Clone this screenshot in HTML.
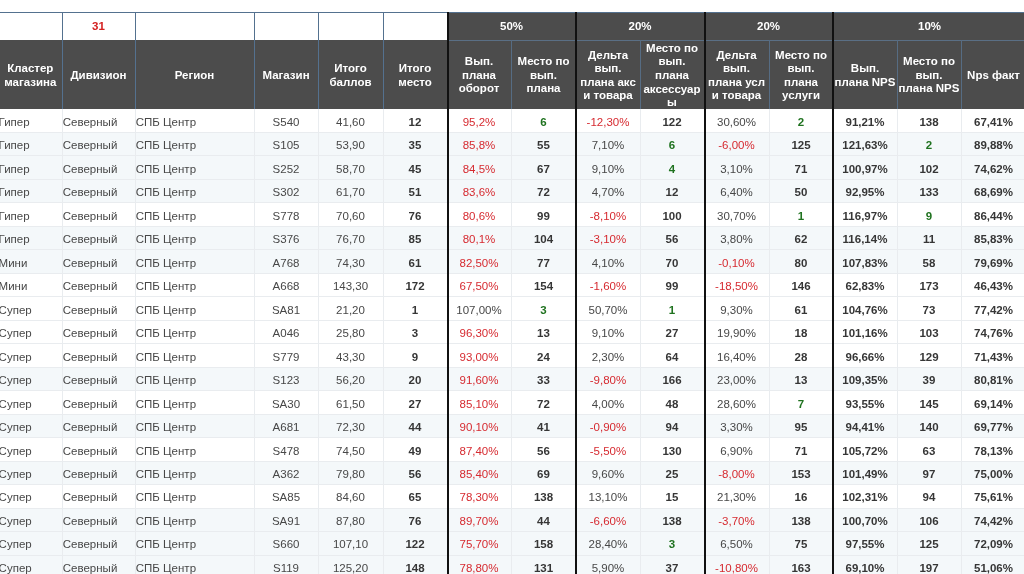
<!DOCTYPE html><html><head><meta charset="utf-8"><style>
html,body{margin:0;padding:0;background:#fff;}
body{width:1024px;height:574px;overflow:hidden;position:relative;font-family:"Liberation Sans", Arial, Helvetica, sans-serif;}
.c{position:absolute;box-sizing:border-box;display:flex;align-items:center;justify-content:center;text-align:center;white-space:nowrap;overflow:visible;}
.h{color:#fff;font-weight:bold;font-size:11.5px;line-height:13.6px;padding-top:2.4px;}
.d{font-size:11.5px;color:#474747;padding-top:2.1px;}
.l{justify-content:flex-start;padding-left:0.8px;}
.l0{padding-left:0;}
.b{font-weight:bold;color:#363636;}
.r{color:#d62a30;}
.g{color:#1f721f;font-weight:bold;}
.ln{position:absolute;}
#w{position:absolute;left:0;top:0;width:1024px;height:574px;will-change:transform;}
</style></head><body><div id="w">
<div class="ln" style="left:447px;top:12px;width:579px;height:97px;background:#4c4c4c;"></div>
<div class="ln" style="left:-1.5px;top:40px;width:448.5px;height:69px;background:#4c4c4c;"></div>
<div class="ln" style="left:-1.5px;top:132.48px;width:1027.5px;height:23.48px;background:#f4f8fa;"></div>
<div class="ln" style="left:-1.5px;top:155.96px;width:1027.5px;height:23.48px;background:#f4f8fa;"></div>
<div class="ln" style="left:-1.5px;top:179.44px;width:1027.5px;height:23.48px;background:#f4f8fa;"></div>
<div class="ln" style="left:-1.5px;top:226.4px;width:1027.5px;height:23.48px;background:#f4f8fa;"></div>
<div class="ln" style="left:-1.5px;top:249.88px;width:1027.5px;height:23.48px;background:#f4f8fa;"></div>
<div class="ln" style="left:-1.5px;top:367.28px;width:1027.5px;height:23.48px;background:#f4f8fa;"></div>
<div class="ln" style="left:-1.5px;top:414.24px;width:1027.5px;height:23.48px;background:#f4f8fa;"></div>
<div class="ln" style="left:-1.5px;top:461.2px;width:1027.5px;height:23.48px;background:#f4f8fa;"></div>
<div class="ln" style="left:-1.5px;top:508.16px;width:1027.5px;height:23.48px;background:#f4f8fa;"></div>
<div class="ln" style="left:-1.5px;top:531.64px;width:1027.5px;height:23.48px;background:#f4f8fa;"></div>
<div class="ln" style="left:-1.5px;top:555.12px;width:1027.5px;height:23.48px;background:#f4f8fa;"></div>
<div class="ln" style="left:-1.5px;top:131.98px;width:1027.5px;height:1px;background:#e9ecef;"></div>
<div class="ln" style="left:-1.5px;top:155.46px;width:1027.5px;height:1px;background:#e9ecef;"></div>
<div class="ln" style="left:-1.5px;top:178.94px;width:1027.5px;height:1px;background:#e9ecef;"></div>
<div class="ln" style="left:-1.5px;top:202.42px;width:1027.5px;height:1px;background:#e9ecef;"></div>
<div class="ln" style="left:-1.5px;top:225.9px;width:1027.5px;height:1px;background:#e9ecef;"></div>
<div class="ln" style="left:-1.5px;top:249.38px;width:1027.5px;height:1px;background:#e9ecef;"></div>
<div class="ln" style="left:-1.5px;top:272.86px;width:1027.5px;height:1px;background:#e9ecef;"></div>
<div class="ln" style="left:-1.5px;top:296.34px;width:1027.5px;height:1px;background:#e9ecef;"></div>
<div class="ln" style="left:-1.5px;top:319.82px;width:1027.5px;height:1px;background:#e9ecef;"></div>
<div class="ln" style="left:-1.5px;top:343.3px;width:1027.5px;height:1px;background:#e9ecef;"></div>
<div class="ln" style="left:-1.5px;top:366.78px;width:1027.5px;height:1px;background:#e9ecef;"></div>
<div class="ln" style="left:-1.5px;top:390.26px;width:1027.5px;height:1px;background:#e9ecef;"></div>
<div class="ln" style="left:-1.5px;top:413.74px;width:1027.5px;height:1px;background:#e9ecef;"></div>
<div class="ln" style="left:-1.5px;top:437.22px;width:1027.5px;height:1px;background:#e9ecef;"></div>
<div class="ln" style="left:-1.5px;top:460.7px;width:1027.5px;height:1px;background:#e9ecef;"></div>
<div class="ln" style="left:-1.5px;top:484.18px;width:1027.5px;height:1px;background:#e9ecef;"></div>
<div class="ln" style="left:-1.5px;top:507.66px;width:1027.5px;height:1px;background:#e9ecef;"></div>
<div class="ln" style="left:-1.5px;top:531.14px;width:1027.5px;height:1px;background:#e9ecef;"></div>
<div class="ln" style="left:-1.5px;top:554.62px;width:1027.5px;height:1px;background:#e9ecef;"></div>
<div class="ln" style="left:-1.5px;top:578.1px;width:1027.5px;height:1px;background:#e9ecef;"></div>
<div class="ln" style="left:62px;top:109px;width:1px;height:465px;background:#e9ecef;"></div>
<div class="ln" style="left:135px;top:109px;width:1px;height:465px;background:#e9ecef;"></div>
<div class="ln" style="left:254px;top:109px;width:1px;height:465px;background:#e9ecef;"></div>
<div class="ln" style="left:318px;top:109px;width:1px;height:465px;background:#e9ecef;"></div>
<div class="ln" style="left:383px;top:109px;width:1px;height:465px;background:#e9ecef;"></div>
<div class="ln" style="left:511px;top:109px;width:1px;height:465px;background:#e9ecef;"></div>
<div class="ln" style="left:640px;top:109px;width:1px;height:465px;background:#e9ecef;"></div>
<div class="ln" style="left:769px;top:109px;width:1px;height:465px;background:#e9ecef;"></div>
<div class="ln" style="left:897px;top:109px;width:1px;height:465px;background:#e9ecef;"></div>
<div class="ln" style="left:961px;top:109px;width:1px;height:465px;background:#e9ecef;"></div>
<div class="ln" style="left:-1.5px;top:12px;width:1027.5px;height:1px;background:#54718f;"></div>
<div class="ln" style="left:62px;top:12px;width:1px;height:97px;background:#54718f;"></div>
<div class="ln" style="left:135px;top:12px;width:1px;height:97px;background:#54718f;"></div>
<div class="ln" style="left:254px;top:12px;width:1px;height:97px;background:#54718f;"></div>
<div class="ln" style="left:318px;top:12px;width:1px;height:97px;background:#54718f;"></div>
<div class="ln" style="left:383px;top:12px;width:1px;height:97px;background:#54718f;"></div>
<div class="ln" style="left:447px;top:40px;width:579px;height:1px;background:#5a6f85;"></div>
<div class="ln" style="left:510.5px;top:40px;width:1.5px;height:69px;background:#566c83;"></div>
<div class="ln" style="left:639.5px;top:40px;width:1.5px;height:69px;background:#566c83;"></div>
<div class="ln" style="left:768.5px;top:40px;width:1.5px;height:69px;background:#566c83;"></div>
<div class="ln" style="left:896.5px;top:40px;width:1.5px;height:69px;background:#566c83;"></div>
<div class="ln" style="left:960.5px;top:40px;width:1.5px;height:69px;background:#566c83;"></div>
<div class="ln" style="left:446.5px;top:12px;width:2px;height:562px;background:#111;"></div>
<div class="ln" style="left:575px;top:12px;width:2px;height:562px;background:#111;"></div>
<div class="ln" style="left:704px;top:12px;width:2px;height:562px;background:#111;"></div>
<div class="ln" style="left:832px;top:12px;width:2px;height:562px;background:#111;"></div>
<div class="c h" style="left:62px;top:12px;width:73px;height:28px;color:#d42020;">31</div>
<div class="c h" style="left:447px;top:12px;width:129px;height:28px;">50%</div>
<div class="c h" style="left:576px;top:12px;width:128px;height:28px;">20%</div>
<div class="c h" style="left:704px;top:12px;width:129px;height:28px;">20%</div>
<div class="c h" style="left:833px;top:12px;width:193px;height:28px;">10%</div>
<div class="c h" style="left:-1.5px;top:40px;width:63.5px;height:69px;">Кластер<br>магазина</div>
<div class="c h" style="left:62px;top:40px;width:73px;height:69px;">Дивизион</div>
<div class="c h" style="left:135px;top:40px;width:119px;height:69px;">Регион</div>
<div class="c h" style="left:254px;top:40px;width:64px;height:69px;">Магазин</div>
<div class="c h" style="left:318px;top:40px;width:65px;height:69px;">Итого<br>баллов</div>
<div class="c h" style="left:383px;top:40px;width:64px;height:69px;">Итого<br>место</div>
<div class="c h" style="left:447px;top:40px;width:64px;height:69px;">Вып.<br>плана<br>оборот</div>
<div class="c h" style="left:511px;top:40px;width:65px;height:69px;">Место по<br>вып.<br>плана</div>
<div class="c h" style="left:576px;top:40px;width:64px;height:69px;">Дельта<br>вып.<br>плана акс<br>и товара</div>
<div class="c h" style="left:640px;top:40px;width:64px;height:69px;">Место по<br>вып.<br>плана<br>аксессуар<br>ы</div>
<div class="c h" style="left:704px;top:40px;width:65px;height:69px;">Дельта<br>вып.<br>плана усл<br>и товара</div>
<div class="c h" style="left:769px;top:40px;width:64px;height:69px;">Место по<br>вып.<br>плана<br>услуги</div>
<div class="c h" style="left:833px;top:40px;width:64px;height:69px;">Вып.<br>плана NPS</div>
<div class="c h" style="left:897px;top:40px;width:64px;height:69px;">Место по<br>вып.<br>плана NPS</div>
<div class="c h" style="left:961px;top:40px;width:65px;height:69px;">Nps факт</div>
<div class="c d l l0" style="left:-1.4px;top:109px;width:63.4px;height:23.48px;">Гипер</div>
<div class="c d l" style="left:62px;top:109px;width:73px;height:23.48px;">Северный</div>
<div class="c d l" style="left:135px;top:109px;width:119px;height:23.48px;">СПБ Центр</div>
<div class="c d" style="left:254px;top:109px;width:64px;height:23.48px;">S540</div>
<div class="c d" style="left:318px;top:109px;width:65px;height:23.48px;">41,60</div>
<div class="c d b" style="left:383px;top:109px;width:64px;height:23.48px;">12</div>
<div class="c d r" style="left:447px;top:109px;width:64px;height:23.48px;">95,2%</div>
<div class="c d g" style="left:511px;top:109px;width:65px;height:23.48px;">6</div>
<div class="c d r" style="left:576px;top:109px;width:64px;height:23.48px;">-12,30%</div>
<div class="c d b" style="left:640px;top:109px;width:64px;height:23.48px;">122</div>
<div class="c d" style="left:704px;top:109px;width:65px;height:23.48px;">30,60%</div>
<div class="c d g" style="left:769px;top:109px;width:64px;height:23.48px;">2</div>
<div class="c d b" style="left:833px;top:109px;width:64px;height:23.48px;">91,21%</div>
<div class="c d b" style="left:897px;top:109px;width:64px;height:23.48px;">138</div>
<div class="c d b" style="left:961px;top:109px;width:65px;height:23.48px;">67,41%</div>
<div class="c d l l0" style="left:-1.4px;top:132.48px;width:63.4px;height:23.48px;">Гипер</div>
<div class="c d l" style="left:62px;top:132.48px;width:73px;height:23.48px;">Северный</div>
<div class="c d l" style="left:135px;top:132.48px;width:119px;height:23.48px;">СПБ Центр</div>
<div class="c d" style="left:254px;top:132.48px;width:64px;height:23.48px;">S105</div>
<div class="c d" style="left:318px;top:132.48px;width:65px;height:23.48px;">53,90</div>
<div class="c d b" style="left:383px;top:132.48px;width:64px;height:23.48px;">35</div>
<div class="c d r" style="left:447px;top:132.48px;width:64px;height:23.48px;">85,8%</div>
<div class="c d b" style="left:511px;top:132.48px;width:65px;height:23.48px;">55</div>
<div class="c d" style="left:576px;top:132.48px;width:64px;height:23.48px;">7,10%</div>
<div class="c d g" style="left:640px;top:132.48px;width:64px;height:23.48px;">6</div>
<div class="c d r" style="left:704px;top:132.48px;width:65px;height:23.48px;">-6,00%</div>
<div class="c d b" style="left:769px;top:132.48px;width:64px;height:23.48px;">125</div>
<div class="c d b" style="left:833px;top:132.48px;width:64px;height:23.48px;">121,63%</div>
<div class="c d g" style="left:897px;top:132.48px;width:64px;height:23.48px;">2</div>
<div class="c d b" style="left:961px;top:132.48px;width:65px;height:23.48px;">89,88%</div>
<div class="c d l l0" style="left:-1.4px;top:155.96px;width:63.4px;height:23.48px;">Гипер</div>
<div class="c d l" style="left:62px;top:155.96px;width:73px;height:23.48px;">Северный</div>
<div class="c d l" style="left:135px;top:155.96px;width:119px;height:23.48px;">СПБ Центр</div>
<div class="c d" style="left:254px;top:155.96px;width:64px;height:23.48px;">S252</div>
<div class="c d" style="left:318px;top:155.96px;width:65px;height:23.48px;">58,70</div>
<div class="c d b" style="left:383px;top:155.96px;width:64px;height:23.48px;">45</div>
<div class="c d r" style="left:447px;top:155.96px;width:64px;height:23.48px;">84,5%</div>
<div class="c d b" style="left:511px;top:155.96px;width:65px;height:23.48px;">67</div>
<div class="c d" style="left:576px;top:155.96px;width:64px;height:23.48px;">9,10%</div>
<div class="c d g" style="left:640px;top:155.96px;width:64px;height:23.48px;">4</div>
<div class="c d" style="left:704px;top:155.96px;width:65px;height:23.48px;">3,10%</div>
<div class="c d b" style="left:769px;top:155.96px;width:64px;height:23.48px;">71</div>
<div class="c d b" style="left:833px;top:155.96px;width:64px;height:23.48px;">100,97%</div>
<div class="c d b" style="left:897px;top:155.96px;width:64px;height:23.48px;">102</div>
<div class="c d b" style="left:961px;top:155.96px;width:65px;height:23.48px;">74,62%</div>
<div class="c d l l0" style="left:-1.4px;top:179.44px;width:63.4px;height:23.48px;">Гипер</div>
<div class="c d l" style="left:62px;top:179.44px;width:73px;height:23.48px;">Северный</div>
<div class="c d l" style="left:135px;top:179.44px;width:119px;height:23.48px;">СПБ Центр</div>
<div class="c d" style="left:254px;top:179.44px;width:64px;height:23.48px;">S302</div>
<div class="c d" style="left:318px;top:179.44px;width:65px;height:23.48px;">61,70</div>
<div class="c d b" style="left:383px;top:179.44px;width:64px;height:23.48px;">51</div>
<div class="c d r" style="left:447px;top:179.44px;width:64px;height:23.48px;">83,6%</div>
<div class="c d b" style="left:511px;top:179.44px;width:65px;height:23.48px;">72</div>
<div class="c d" style="left:576px;top:179.44px;width:64px;height:23.48px;">4,70%</div>
<div class="c d b" style="left:640px;top:179.44px;width:64px;height:23.48px;">12</div>
<div class="c d" style="left:704px;top:179.44px;width:65px;height:23.48px;">6,40%</div>
<div class="c d b" style="left:769px;top:179.44px;width:64px;height:23.48px;">50</div>
<div class="c d b" style="left:833px;top:179.44px;width:64px;height:23.48px;">92,95%</div>
<div class="c d b" style="left:897px;top:179.44px;width:64px;height:23.48px;">133</div>
<div class="c d b" style="left:961px;top:179.44px;width:65px;height:23.48px;">68,69%</div>
<div class="c d l l0" style="left:-1.4px;top:202.92px;width:63.4px;height:23.48px;">Гипер</div>
<div class="c d l" style="left:62px;top:202.92px;width:73px;height:23.48px;">Северный</div>
<div class="c d l" style="left:135px;top:202.92px;width:119px;height:23.48px;">СПБ Центр</div>
<div class="c d" style="left:254px;top:202.92px;width:64px;height:23.48px;">S778</div>
<div class="c d" style="left:318px;top:202.92px;width:65px;height:23.48px;">70,60</div>
<div class="c d b" style="left:383px;top:202.92px;width:64px;height:23.48px;">76</div>
<div class="c d r" style="left:447px;top:202.92px;width:64px;height:23.48px;">80,6%</div>
<div class="c d b" style="left:511px;top:202.92px;width:65px;height:23.48px;">99</div>
<div class="c d r" style="left:576px;top:202.92px;width:64px;height:23.48px;">-8,10%</div>
<div class="c d b" style="left:640px;top:202.92px;width:64px;height:23.48px;">100</div>
<div class="c d" style="left:704px;top:202.92px;width:65px;height:23.48px;">30,70%</div>
<div class="c d g" style="left:769px;top:202.92px;width:64px;height:23.48px;">1</div>
<div class="c d b" style="left:833px;top:202.92px;width:64px;height:23.48px;">116,97%</div>
<div class="c d g" style="left:897px;top:202.92px;width:64px;height:23.48px;">9</div>
<div class="c d b" style="left:961px;top:202.92px;width:65px;height:23.48px;">86,44%</div>
<div class="c d l l0" style="left:-1.4px;top:226.4px;width:63.4px;height:23.48px;">Гипер</div>
<div class="c d l" style="left:62px;top:226.4px;width:73px;height:23.48px;">Северный</div>
<div class="c d l" style="left:135px;top:226.4px;width:119px;height:23.48px;">СПБ Центр</div>
<div class="c d" style="left:254px;top:226.4px;width:64px;height:23.48px;">S376</div>
<div class="c d" style="left:318px;top:226.4px;width:65px;height:23.48px;">76,70</div>
<div class="c d b" style="left:383px;top:226.4px;width:64px;height:23.48px;">85</div>
<div class="c d r" style="left:447px;top:226.4px;width:64px;height:23.48px;">80,1%</div>
<div class="c d b" style="left:511px;top:226.4px;width:65px;height:23.48px;">104</div>
<div class="c d r" style="left:576px;top:226.4px;width:64px;height:23.48px;">-3,10%</div>
<div class="c d b" style="left:640px;top:226.4px;width:64px;height:23.48px;">56</div>
<div class="c d" style="left:704px;top:226.4px;width:65px;height:23.48px;">3,80%</div>
<div class="c d b" style="left:769px;top:226.4px;width:64px;height:23.48px;">62</div>
<div class="c d b" style="left:833px;top:226.4px;width:64px;height:23.48px;">116,14%</div>
<div class="c d b" style="left:897px;top:226.4px;width:64px;height:23.48px;">11</div>
<div class="c d b" style="left:961px;top:226.4px;width:65px;height:23.48px;">85,83%</div>
<div class="c d l l0" style="left:-1.4px;top:249.88px;width:63.4px;height:23.48px;">Мини</div>
<div class="c d l" style="left:62px;top:249.88px;width:73px;height:23.48px;">Северный</div>
<div class="c d l" style="left:135px;top:249.88px;width:119px;height:23.48px;">СПБ Центр</div>
<div class="c d" style="left:254px;top:249.88px;width:64px;height:23.48px;">A768</div>
<div class="c d" style="left:318px;top:249.88px;width:65px;height:23.48px;">74,30</div>
<div class="c d b" style="left:383px;top:249.88px;width:64px;height:23.48px;">61</div>
<div class="c d r" style="left:447px;top:249.88px;width:64px;height:23.48px;">82,50%</div>
<div class="c d b" style="left:511px;top:249.88px;width:65px;height:23.48px;">77</div>
<div class="c d" style="left:576px;top:249.88px;width:64px;height:23.48px;">4,10%</div>
<div class="c d b" style="left:640px;top:249.88px;width:64px;height:23.48px;">70</div>
<div class="c d r" style="left:704px;top:249.88px;width:65px;height:23.48px;">-0,10%</div>
<div class="c d b" style="left:769px;top:249.88px;width:64px;height:23.48px;">80</div>
<div class="c d b" style="left:833px;top:249.88px;width:64px;height:23.48px;">107,83%</div>
<div class="c d b" style="left:897px;top:249.88px;width:64px;height:23.48px;">58</div>
<div class="c d b" style="left:961px;top:249.88px;width:65px;height:23.48px;">79,69%</div>
<div class="c d l l0" style="left:-1.4px;top:273.36px;width:63.4px;height:23.48px;">Мини</div>
<div class="c d l" style="left:62px;top:273.36px;width:73px;height:23.48px;">Северный</div>
<div class="c d l" style="left:135px;top:273.36px;width:119px;height:23.48px;">СПБ Центр</div>
<div class="c d" style="left:254px;top:273.36px;width:64px;height:23.48px;">A668</div>
<div class="c d" style="left:318px;top:273.36px;width:65px;height:23.48px;">143,30</div>
<div class="c d b" style="left:383px;top:273.36px;width:64px;height:23.48px;">172</div>
<div class="c d r" style="left:447px;top:273.36px;width:64px;height:23.48px;">67,50%</div>
<div class="c d b" style="left:511px;top:273.36px;width:65px;height:23.48px;">154</div>
<div class="c d r" style="left:576px;top:273.36px;width:64px;height:23.48px;">-1,60%</div>
<div class="c d b" style="left:640px;top:273.36px;width:64px;height:23.48px;">99</div>
<div class="c d r" style="left:704px;top:273.36px;width:65px;height:23.48px;">-18,50%</div>
<div class="c d b" style="left:769px;top:273.36px;width:64px;height:23.48px;">146</div>
<div class="c d b" style="left:833px;top:273.36px;width:64px;height:23.48px;">62,83%</div>
<div class="c d b" style="left:897px;top:273.36px;width:64px;height:23.48px;">173</div>
<div class="c d b" style="left:961px;top:273.36px;width:65px;height:23.48px;">46,43%</div>
<div class="c d l l0" style="left:-1.4px;top:296.84px;width:63.4px;height:23.48px;">Супер</div>
<div class="c d l" style="left:62px;top:296.84px;width:73px;height:23.48px;">Северный</div>
<div class="c d l" style="left:135px;top:296.84px;width:119px;height:23.48px;">СПБ Центр</div>
<div class="c d" style="left:254px;top:296.84px;width:64px;height:23.48px;">SA81</div>
<div class="c d" style="left:318px;top:296.84px;width:65px;height:23.48px;">21,20</div>
<div class="c d b" style="left:383px;top:296.84px;width:64px;height:23.48px;">1</div>
<div class="c d" style="left:447px;top:296.84px;width:64px;height:23.48px;">107,00%</div>
<div class="c d g" style="left:511px;top:296.84px;width:65px;height:23.48px;">3</div>
<div class="c d" style="left:576px;top:296.84px;width:64px;height:23.48px;">50,70%</div>
<div class="c d g" style="left:640px;top:296.84px;width:64px;height:23.48px;">1</div>
<div class="c d" style="left:704px;top:296.84px;width:65px;height:23.48px;">9,30%</div>
<div class="c d b" style="left:769px;top:296.84px;width:64px;height:23.48px;">61</div>
<div class="c d b" style="left:833px;top:296.84px;width:64px;height:23.48px;">104,76%</div>
<div class="c d b" style="left:897px;top:296.84px;width:64px;height:23.48px;">73</div>
<div class="c d b" style="left:961px;top:296.84px;width:65px;height:23.48px;">77,42%</div>
<div class="c d l l0" style="left:-1.4px;top:320.32px;width:63.4px;height:23.48px;">Супер</div>
<div class="c d l" style="left:62px;top:320.32px;width:73px;height:23.48px;">Северный</div>
<div class="c d l" style="left:135px;top:320.32px;width:119px;height:23.48px;">СПБ Центр</div>
<div class="c d" style="left:254px;top:320.32px;width:64px;height:23.48px;">A046</div>
<div class="c d" style="left:318px;top:320.32px;width:65px;height:23.48px;">25,80</div>
<div class="c d b" style="left:383px;top:320.32px;width:64px;height:23.48px;">3</div>
<div class="c d r" style="left:447px;top:320.32px;width:64px;height:23.48px;">96,30%</div>
<div class="c d b" style="left:511px;top:320.32px;width:65px;height:23.48px;">13</div>
<div class="c d" style="left:576px;top:320.32px;width:64px;height:23.48px;">9,10%</div>
<div class="c d b" style="left:640px;top:320.32px;width:64px;height:23.48px;">27</div>
<div class="c d" style="left:704px;top:320.32px;width:65px;height:23.48px;">19,90%</div>
<div class="c d b" style="left:769px;top:320.32px;width:64px;height:23.48px;">18</div>
<div class="c d b" style="left:833px;top:320.32px;width:64px;height:23.48px;">101,16%</div>
<div class="c d b" style="left:897px;top:320.32px;width:64px;height:23.48px;">103</div>
<div class="c d b" style="left:961px;top:320.32px;width:65px;height:23.48px;">74,76%</div>
<div class="c d l l0" style="left:-1.4px;top:343.8px;width:63.4px;height:23.48px;">Супер</div>
<div class="c d l" style="left:62px;top:343.8px;width:73px;height:23.48px;">Северный</div>
<div class="c d l" style="left:135px;top:343.8px;width:119px;height:23.48px;">СПБ Центр</div>
<div class="c d" style="left:254px;top:343.8px;width:64px;height:23.48px;">S779</div>
<div class="c d" style="left:318px;top:343.8px;width:65px;height:23.48px;">43,30</div>
<div class="c d b" style="left:383px;top:343.8px;width:64px;height:23.48px;">9</div>
<div class="c d r" style="left:447px;top:343.8px;width:64px;height:23.48px;">93,00%</div>
<div class="c d b" style="left:511px;top:343.8px;width:65px;height:23.48px;">24</div>
<div class="c d" style="left:576px;top:343.8px;width:64px;height:23.48px;">2,30%</div>
<div class="c d b" style="left:640px;top:343.8px;width:64px;height:23.48px;">64</div>
<div class="c d" style="left:704px;top:343.8px;width:65px;height:23.48px;">16,40%</div>
<div class="c d b" style="left:769px;top:343.8px;width:64px;height:23.48px;">28</div>
<div class="c d b" style="left:833px;top:343.8px;width:64px;height:23.48px;">96,66%</div>
<div class="c d b" style="left:897px;top:343.8px;width:64px;height:23.48px;">129</div>
<div class="c d b" style="left:961px;top:343.8px;width:65px;height:23.48px;">71,43%</div>
<div class="c d l l0" style="left:-1.4px;top:367.28px;width:63.4px;height:23.48px;">Супер</div>
<div class="c d l" style="left:62px;top:367.28px;width:73px;height:23.48px;">Северный</div>
<div class="c d l" style="left:135px;top:367.28px;width:119px;height:23.48px;">СПБ Центр</div>
<div class="c d" style="left:254px;top:367.28px;width:64px;height:23.48px;">S123</div>
<div class="c d" style="left:318px;top:367.28px;width:65px;height:23.48px;">56,20</div>
<div class="c d b" style="left:383px;top:367.28px;width:64px;height:23.48px;">20</div>
<div class="c d r" style="left:447px;top:367.28px;width:64px;height:23.48px;">91,60%</div>
<div class="c d b" style="left:511px;top:367.28px;width:65px;height:23.48px;">33</div>
<div class="c d r" style="left:576px;top:367.28px;width:64px;height:23.48px;">-9,80%</div>
<div class="c d b" style="left:640px;top:367.28px;width:64px;height:23.48px;">166</div>
<div class="c d" style="left:704px;top:367.28px;width:65px;height:23.48px;">23,00%</div>
<div class="c d b" style="left:769px;top:367.28px;width:64px;height:23.48px;">13</div>
<div class="c d b" style="left:833px;top:367.28px;width:64px;height:23.48px;">109,35%</div>
<div class="c d b" style="left:897px;top:367.28px;width:64px;height:23.48px;">39</div>
<div class="c d b" style="left:961px;top:367.28px;width:65px;height:23.48px;">80,81%</div>
<div class="c d l l0" style="left:-1.4px;top:390.76px;width:63.4px;height:23.48px;">Супер</div>
<div class="c d l" style="left:62px;top:390.76px;width:73px;height:23.48px;">Северный</div>
<div class="c d l" style="left:135px;top:390.76px;width:119px;height:23.48px;">СПБ Центр</div>
<div class="c d" style="left:254px;top:390.76px;width:64px;height:23.48px;">SA30</div>
<div class="c d" style="left:318px;top:390.76px;width:65px;height:23.48px;">61,50</div>
<div class="c d b" style="left:383px;top:390.76px;width:64px;height:23.48px;">27</div>
<div class="c d r" style="left:447px;top:390.76px;width:64px;height:23.48px;">85,10%</div>
<div class="c d b" style="left:511px;top:390.76px;width:65px;height:23.48px;">72</div>
<div class="c d" style="left:576px;top:390.76px;width:64px;height:23.48px;">4,00%</div>
<div class="c d b" style="left:640px;top:390.76px;width:64px;height:23.48px;">48</div>
<div class="c d" style="left:704px;top:390.76px;width:65px;height:23.48px;">28,60%</div>
<div class="c d g" style="left:769px;top:390.76px;width:64px;height:23.48px;">7</div>
<div class="c d b" style="left:833px;top:390.76px;width:64px;height:23.48px;">93,55%</div>
<div class="c d b" style="left:897px;top:390.76px;width:64px;height:23.48px;">145</div>
<div class="c d b" style="left:961px;top:390.76px;width:65px;height:23.48px;">69,14%</div>
<div class="c d l l0" style="left:-1.4px;top:414.24px;width:63.4px;height:23.48px;">Супер</div>
<div class="c d l" style="left:62px;top:414.24px;width:73px;height:23.48px;">Северный</div>
<div class="c d l" style="left:135px;top:414.24px;width:119px;height:23.48px;">СПБ Центр</div>
<div class="c d" style="left:254px;top:414.24px;width:64px;height:23.48px;">A681</div>
<div class="c d" style="left:318px;top:414.24px;width:65px;height:23.48px;">72,30</div>
<div class="c d b" style="left:383px;top:414.24px;width:64px;height:23.48px;">44</div>
<div class="c d r" style="left:447px;top:414.24px;width:64px;height:23.48px;">90,10%</div>
<div class="c d b" style="left:511px;top:414.24px;width:65px;height:23.48px;">41</div>
<div class="c d r" style="left:576px;top:414.24px;width:64px;height:23.48px;">-0,90%</div>
<div class="c d b" style="left:640px;top:414.24px;width:64px;height:23.48px;">94</div>
<div class="c d" style="left:704px;top:414.24px;width:65px;height:23.48px;">3,30%</div>
<div class="c d b" style="left:769px;top:414.24px;width:64px;height:23.48px;">95</div>
<div class="c d b" style="left:833px;top:414.24px;width:64px;height:23.48px;">94,41%</div>
<div class="c d b" style="left:897px;top:414.24px;width:64px;height:23.48px;">140</div>
<div class="c d b" style="left:961px;top:414.24px;width:65px;height:23.48px;">69,77%</div>
<div class="c d l l0" style="left:-1.4px;top:437.72px;width:63.4px;height:23.48px;">Супер</div>
<div class="c d l" style="left:62px;top:437.72px;width:73px;height:23.48px;">Северный</div>
<div class="c d l" style="left:135px;top:437.72px;width:119px;height:23.48px;">СПБ Центр</div>
<div class="c d" style="left:254px;top:437.72px;width:64px;height:23.48px;">S478</div>
<div class="c d" style="left:318px;top:437.72px;width:65px;height:23.48px;">74,50</div>
<div class="c d b" style="left:383px;top:437.72px;width:64px;height:23.48px;">49</div>
<div class="c d r" style="left:447px;top:437.72px;width:64px;height:23.48px;">87,40%</div>
<div class="c d b" style="left:511px;top:437.72px;width:65px;height:23.48px;">56</div>
<div class="c d r" style="left:576px;top:437.72px;width:64px;height:23.48px;">-5,50%</div>
<div class="c d b" style="left:640px;top:437.72px;width:64px;height:23.48px;">130</div>
<div class="c d" style="left:704px;top:437.72px;width:65px;height:23.48px;">6,90%</div>
<div class="c d b" style="left:769px;top:437.72px;width:64px;height:23.48px;">71</div>
<div class="c d b" style="left:833px;top:437.72px;width:64px;height:23.48px;">105,72%</div>
<div class="c d b" style="left:897px;top:437.72px;width:64px;height:23.48px;">63</div>
<div class="c d b" style="left:961px;top:437.72px;width:65px;height:23.48px;">78,13%</div>
<div class="c d l l0" style="left:-1.4px;top:461.2px;width:63.4px;height:23.48px;">Супер</div>
<div class="c d l" style="left:62px;top:461.2px;width:73px;height:23.48px;">Северный</div>
<div class="c d l" style="left:135px;top:461.2px;width:119px;height:23.48px;">СПБ Центр</div>
<div class="c d" style="left:254px;top:461.2px;width:64px;height:23.48px;">A362</div>
<div class="c d" style="left:318px;top:461.2px;width:65px;height:23.48px;">79,80</div>
<div class="c d b" style="left:383px;top:461.2px;width:64px;height:23.48px;">56</div>
<div class="c d r" style="left:447px;top:461.2px;width:64px;height:23.48px;">85,40%</div>
<div class="c d b" style="left:511px;top:461.2px;width:65px;height:23.48px;">69</div>
<div class="c d" style="left:576px;top:461.2px;width:64px;height:23.48px;">9,60%</div>
<div class="c d b" style="left:640px;top:461.2px;width:64px;height:23.48px;">25</div>
<div class="c d r" style="left:704px;top:461.2px;width:65px;height:23.48px;">-8,00%</div>
<div class="c d b" style="left:769px;top:461.2px;width:64px;height:23.48px;">153</div>
<div class="c d b" style="left:833px;top:461.2px;width:64px;height:23.48px;">101,49%</div>
<div class="c d b" style="left:897px;top:461.2px;width:64px;height:23.48px;">97</div>
<div class="c d b" style="left:961px;top:461.2px;width:65px;height:23.48px;">75,00%</div>
<div class="c d l l0" style="left:-1.4px;top:484.68px;width:63.4px;height:23.48px;">Супер</div>
<div class="c d l" style="left:62px;top:484.68px;width:73px;height:23.48px;">Северный</div>
<div class="c d l" style="left:135px;top:484.68px;width:119px;height:23.48px;">СПБ Центр</div>
<div class="c d" style="left:254px;top:484.68px;width:64px;height:23.48px;">SA85</div>
<div class="c d" style="left:318px;top:484.68px;width:65px;height:23.48px;">84,60</div>
<div class="c d b" style="left:383px;top:484.68px;width:64px;height:23.48px;">65</div>
<div class="c d r" style="left:447px;top:484.68px;width:64px;height:23.48px;">78,30%</div>
<div class="c d b" style="left:511px;top:484.68px;width:65px;height:23.48px;">138</div>
<div class="c d" style="left:576px;top:484.68px;width:64px;height:23.48px;">13,10%</div>
<div class="c d b" style="left:640px;top:484.68px;width:64px;height:23.48px;">15</div>
<div class="c d" style="left:704px;top:484.68px;width:65px;height:23.48px;">21,30%</div>
<div class="c d b" style="left:769px;top:484.68px;width:64px;height:23.48px;">16</div>
<div class="c d b" style="left:833px;top:484.68px;width:64px;height:23.48px;">102,31%</div>
<div class="c d b" style="left:897px;top:484.68px;width:64px;height:23.48px;">94</div>
<div class="c d b" style="left:961px;top:484.68px;width:65px;height:23.48px;">75,61%</div>
<div class="c d l l0" style="left:-1.4px;top:508.16px;width:63.4px;height:23.48px;">Супер</div>
<div class="c d l" style="left:62px;top:508.16px;width:73px;height:23.48px;">Северный</div>
<div class="c d l" style="left:135px;top:508.16px;width:119px;height:23.48px;">СПБ Центр</div>
<div class="c d" style="left:254px;top:508.16px;width:64px;height:23.48px;">SA91</div>
<div class="c d" style="left:318px;top:508.16px;width:65px;height:23.48px;">87,80</div>
<div class="c d b" style="left:383px;top:508.16px;width:64px;height:23.48px;">76</div>
<div class="c d r" style="left:447px;top:508.16px;width:64px;height:23.48px;">89,70%</div>
<div class="c d b" style="left:511px;top:508.16px;width:65px;height:23.48px;">44</div>
<div class="c d r" style="left:576px;top:508.16px;width:64px;height:23.48px;">-6,60%</div>
<div class="c d b" style="left:640px;top:508.16px;width:64px;height:23.48px;">138</div>
<div class="c d r" style="left:704px;top:508.16px;width:65px;height:23.48px;">-3,70%</div>
<div class="c d b" style="left:769px;top:508.16px;width:64px;height:23.48px;">138</div>
<div class="c d b" style="left:833px;top:508.16px;width:64px;height:23.48px;">100,70%</div>
<div class="c d b" style="left:897px;top:508.16px;width:64px;height:23.48px;">106</div>
<div class="c d b" style="left:961px;top:508.16px;width:65px;height:23.48px;">74,42%</div>
<div class="c d l l0" style="left:-1.4px;top:531.64px;width:63.4px;height:23.48px;">Супер</div>
<div class="c d l" style="left:62px;top:531.64px;width:73px;height:23.48px;">Северный</div>
<div class="c d l" style="left:135px;top:531.64px;width:119px;height:23.48px;">СПБ Центр</div>
<div class="c d" style="left:254px;top:531.64px;width:64px;height:23.48px;">S660</div>
<div class="c d" style="left:318px;top:531.64px;width:65px;height:23.48px;">107,10</div>
<div class="c d b" style="left:383px;top:531.64px;width:64px;height:23.48px;">122</div>
<div class="c d r" style="left:447px;top:531.64px;width:64px;height:23.48px;">75,70%</div>
<div class="c d b" style="left:511px;top:531.64px;width:65px;height:23.48px;">158</div>
<div class="c d" style="left:576px;top:531.64px;width:64px;height:23.48px;">28,40%</div>
<div class="c d g" style="left:640px;top:531.64px;width:64px;height:23.48px;">3</div>
<div class="c d" style="left:704px;top:531.64px;width:65px;height:23.48px;">6,50%</div>
<div class="c d b" style="left:769px;top:531.64px;width:64px;height:23.48px;">75</div>
<div class="c d b" style="left:833px;top:531.64px;width:64px;height:23.48px;">97,55%</div>
<div class="c d b" style="left:897px;top:531.64px;width:64px;height:23.48px;">125</div>
<div class="c d b" style="left:961px;top:531.64px;width:65px;height:23.48px;">72,09%</div>
<div class="c d l l0" style="left:-1.4px;top:555.12px;width:63.4px;height:23.48px;">Супер</div>
<div class="c d l" style="left:62px;top:555.12px;width:73px;height:23.48px;">Северный</div>
<div class="c d l" style="left:135px;top:555.12px;width:119px;height:23.48px;">СПБ Центр</div>
<div class="c d" style="left:254px;top:555.12px;width:64px;height:23.48px;">S119</div>
<div class="c d" style="left:318px;top:555.12px;width:65px;height:23.48px;">125,20</div>
<div class="c d b" style="left:383px;top:555.12px;width:64px;height:23.48px;">148</div>
<div class="c d r" style="left:447px;top:555.12px;width:64px;height:23.48px;">78,80%</div>
<div class="c d b" style="left:511px;top:555.12px;width:65px;height:23.48px;">131</div>
<div class="c d" style="left:576px;top:555.12px;width:64px;height:23.48px;">5,90%</div>
<div class="c d b" style="left:640px;top:555.12px;width:64px;height:23.48px;">37</div>
<div class="c d r" style="left:704px;top:555.12px;width:65px;height:23.48px;">-10,80%</div>
<div class="c d b" style="left:769px;top:555.12px;width:64px;height:23.48px;">163</div>
<div class="c d b" style="left:833px;top:555.12px;width:64px;height:23.48px;">69,10%</div>
<div class="c d b" style="left:897px;top:555.12px;width:64px;height:23.48px;">197</div>
<div class="c d b" style="left:961px;top:555.12px;width:65px;height:23.48px;">51,06%</div>
</div></body></html>
